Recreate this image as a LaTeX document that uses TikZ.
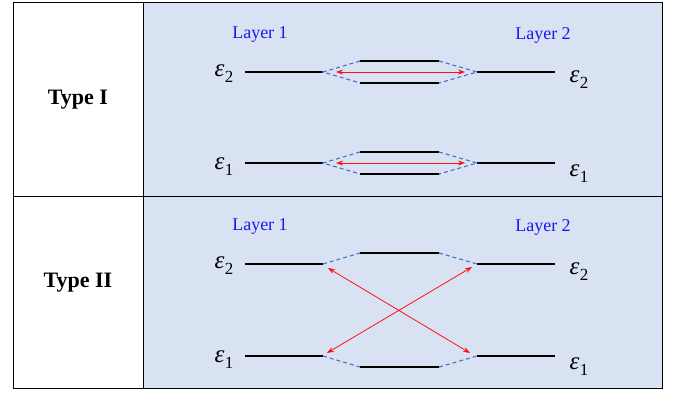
\documentclass[tikz,border=0pt]{standalone}
\usepackage{fontspec}
\setmainfont{Liberation Serif}
\usetikzlibrary{arrows.meta}
\definecolor{bgblue}{HTML}{D9E2F3}
\definecolor{dashblue}{HTML}{4472C4}
\definecolor{laytxt}{HTML}{1A1AF0}
\definecolor{arrred}{HTML}{FF1010}
\newcommand{\epsl}[1]{{\itshape ε}\kern0.5pt\raisebox{-6pt}{\fontsize{17}{19}\selectfont #1}}
\tikzset{
  level/.style={line width=1.8pt, black},
  mix/.style={line width=1.1pt, dashblue, dash pattern=on 4pt off 3pt},
  couple/.style={line width=0.8pt, arrred, {Stealth[length=7pt,width=5pt]}-{Stealth[length=7pt,width=5pt]}},
  lay/.style={text=laytxt, font=\fontsize{18}{21}\selectfont, inner sep=0pt},
  eps/.style={font=\fontsize{25}{28}\selectfont, inner sep=0pt},
  typ/.style={font=\bfseries\fontsize{22}{26}\selectfont, inner sep=0pt},
  frame/.style={line width=1pt, black}
}
\begin{document}
\begin{tikzpicture}[x=1pt,y=-1pt]
\useasboundingbox (0,0) rectangle (678,393);
% table
\fill[bgblue] (143,3) rectangle (662,388);
\draw[frame] (13,3) rectangle (662,388);
\draw[frame] (143,3) -- (143,388);
\draw[frame] (13,196.5) -- (662,196.5);
\node[typ] (t1) at (78,100) {Type I};
\node[typ] (t2) at (78,283) {Type II};

% ---------- Type I ----------
\node[lay] (l1a) at (260,35) {Layer 1};
\node[lay] (l2a) at (543,35) {Layer 2};
% eps2
\coordinate (a2l1) at (245,72); \coordinate (a2l2) at (323,72);
\coordinate (a2r1) at (477,72); \coordinate (a2r2) at (555,72);
\coordinate (a2u1) at (360,61); \coordinate (a2u2) at (439,61);
\coordinate (a2d1) at (360,83); \coordinate (a2d2) at (439,83);
\draw[level] (a2l1) -- (a2l2);
\draw[level] (a2r1) -- (a2r2);
\draw[level] (a2u1) -- (a2u2);
\draw[level] (a2d1) -- (a2d2);
\draw[mix] (a2u1) -- (a2l2) -- (a2d1);
\draw[mix] (a2u2) -- (a2r1) -- (a2d2);
\coordinate (a2al) at (336,72); \coordinate (a2ar) at (465,72);
\draw[couple] (a2al) -- (a2ar);
\node[eps] (ea2l) at (224,74) {\epsl{2}};
\node[eps] (ea2r) at (579,80) {\epsl{2}};
% eps1
\coordinate (a1l1) at (245,163); \coordinate (a1l2) at (323,163);
\coordinate (a1r1) at (477,163); \coordinate (a1r2) at (555,163);
\coordinate (a1u1) at (360,152); \coordinate (a1u2) at (439,152);
\coordinate (a1d1) at (360,174); \coordinate (a1d2) at (439,174);
\draw[level] (a1l1) -- (a1l2);
\draw[level] (a1r1) -- (a1r2);
\draw[level] (a1u1) -- (a1u2);
\draw[level] (a1d1) -- (a1d2);
\draw[mix] (a1u1) -- (a1l2) -- (a1d1);
\draw[mix] (a1u2) -- (a1r1) -- (a1d2);
\coordinate (a1al) at (336,163); \coordinate (a1ar) at (465,163);
\draw[couple] (a1al) -- (a1ar);
\node[eps] (ea1l) at (224,167) {\epsl{1}};
\node[eps] (ea1r) at (579,174) {\epsl{1}};

% ---------- Type II ----------
\node[lay] (l1b) at (260,227) {Layer 1};
\node[lay] (l2b) at (543,227) {Layer 2};
\coordinate (b2l1) at (245,264); \coordinate (b2l2) at (323,264);
\coordinate (b2r1) at (477,264); \coordinate (b2r2) at (555,264);
\coordinate (b2u1) at (360,253); \coordinate (b2u2) at (439,253);
\coordinate (b1l1) at (245,356); \coordinate (b1l2) at (323,356);
\coordinate (b1r1) at (477,356); \coordinate (b1r2) at (555,356);
\coordinate (b1d1) at (360,367); \coordinate (b1d2) at (439,367);
\draw[level] (b2l1) -- (b2l2);
\draw[level] (b2r1) -- (b2r2);
\draw[level] (b2u1) -- (b2u2);
\draw[level] (b1l1) -- (b1l2);
\draw[level] (b1r1) -- (b1r2);
\draw[level] (b1d1) -- (b1d2);
\draw[mix] (b2l2) -- (b2u1);
\draw[mix] (b2u2) -- (b2r1);
\draw[mix] (b1l2) -- (b1d1);
\draw[mix] (b1d2) -- (b1r1);
\coordinate (x1a) at (328,268); \coordinate (x1b) at (470,353);
\coordinate (x2a) at (472,267); \coordinate (x2b) at (327,353);
\draw[couple] (x1a) -- (x1b);
\draw[couple] (x2a) -- (x2b);
\node[eps] (eb2l) at (224,266) {\epsl{2}};
\node[eps] (eb2r) at (579,272) {\epsl{2}};
\node[eps] (eb1l) at (224,360) {\epsl{1}};
\node[eps] (eb1r) at (579,367) {\epsl{1}};
\end{tikzpicture}
\end{document}
